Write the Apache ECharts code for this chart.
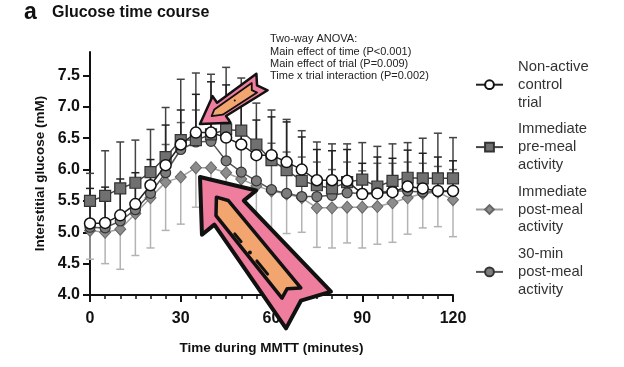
<!DOCTYPE html>
<html><head><meta charset="utf-8">
<script src="https://cdn.jsdelivr.net/npm/echarts@6/dist/echarts.min.js"></script>
<style>html,body{margin:0;padding:0;background:#fff}#c{width:624px;height:367px}</style>
</head><body><div id="c"></div>
<script>
const time = [0,5,10,15,20,25,30,35,40,45,50,55,60,65,70,75,80,85,90,95,100,105,110,115,120];
const control = [5.14,5.15,5.27,5.45,5.75,6.07,6.40,6.59,6.59,6.51,6.40,6.23,6.23,6.12,6.00,5.83,5.83,5.82,5.61,5.62,5.64,5.73,5.70,5.66,5.66];
const preMeal = [5.50,5.58,5.70,5.79,5.96,6.20,6.47,6.47,6.56,6.64,6.62,6.40,6.15,5.99,5.82,5.75,5.70,5.80,5.84,5.73,5.82,5.87,5.86,5.86,5.86];
const postMeal = [5.03,5.00,5.05,5.30,5.55,5.80,5.88,6.03,6.03,5.95,5.85,5.74,5.66,5.61,5.55,5.39,5.39,5.40,5.40,5.41,5.47,5.55,5.62,5.64,5.52];
const thirtyMin = [5.08,5.07,5.18,5.36,5.62,5.95,6.32,6.44,6.45,6.14,5.96,5.82,5.68,5.62,5.57,5.57,5.59,5.63,5.62,5.64,5.66,5.66,5.64,5.65,5.65];
const controlTop = [5.70,5.72,5.85,5.95,6.16,6.71,6.95,7.20,7.40,7.35,7.24,6.79,6.84,6.76,6.52,6.32,6.30,6.32,6.10,6.20,6.18,6.31,6.26,6.20,6.14];
const preMealTop = [5.94,6.30,6.44,6.47,6.64,6.99,7.44,7.54,7.52,7.63,7.46,7.06,6.95,6.80,6.62,6.44,6.41,6.41,6.43,6.37,6.41,6.43,6.50,6.58,6.51];
const thirtyMinTop = [5.55,5.55,5.65,5.85,6.00,6.40,6.75,6.95,7.00,6.80,6.55,6.35,6.42,6.28,6.20,6.12,6.00,6.12,5.98,6.10,6.10,6.12,6.10,6.05,6.00];
const postMealBottom = [4.57,4.50,4.41,4.63,4.75,5.03,5.13,5.40,5.35,5.20,5.10,5.00,4.95,4.98,5.00,4.76,4.75,4.83,4.75,4.81,4.84,4.97,5.07,5.09,4.93];
const yTicks = [4.0,4.5,5.0,5.5,6.0,6.5,7.0,7.5];
const seriesNames = ['Non-active control trial','Immediate pre-meal activity','Immediate post-meal activity','30-min post-meal activity'];
const legendLabels = ['Non-active\ncontrol\ntrial','Immediate\npre-meal\nactivity','Immediate\npost-meal\nactivity','30-min\npost-meal\nactivity'];
const annotation = ['Two-way ANOVA:','Main effect of time (P<0.001)','Main effect of trial (P=0.009)','Time x trial interaction (P=0.002)'];

const FONT = 'Liberation Sans, Arial, sans-serif';
function pairs(vals){ return time.map((t,i)=>[t, vals[i]]); }
function errorSeries(mean, end, color, z){
  return {
    type:'custom', silent:true, z:z,
    data: time.map((t,i)=>[t, mean[i], end[i]]),
    encode:{x:0, y:[1,2]},
    renderItem(params, api){
      const p0 = api.coord([api.value(0), api.value(1)]);
      const p1 = api.coord([api.value(0), api.value(2)]);
      const hw = 4;
      return {type:'group', children:[
        {type:'line', shape:{x1:p0[0],y1:p0[1],x2:p1[0],y2:p1[1]}, style:{stroke:color,lineWidth:1.5}},
        {type:'line', shape:{x1:p1[0]-hw,y1:p1[1],x2:p1[0]+hw,y2:p1[1]}, style:{stroke:color,lineWidth:1.5}}
      ]};
    }
  };
}
function arrowShape(tip, tail, headLen, headHW, neckHW, tailHW, notch){
  const dx=tail[0]-tip[0], dy=tail[1]-tip[1], L=Math.hypot(dx,dy);
  const ux=dx/L, uy=dy/L, px=-uy, py=ux;
  const P=(a,b)=>[tip[0]+ux*a+px*b, tip[1]+uy*a+py*b];
  return {P, L, outer:[P(0,0),P(headLen,headHW),P(headLen,neckHW),P(L,tailHW),P(L-notch,0),P(L,-tailHW),P(headLen,-neckHW),P(headLen,-headHW)]};
}
const big = arrowShape([200,177],[308.5,310],46,35,19,29,12);
const bigInner = [big.P(26,0),big.P(36,-7),big.P(big.L-22,-8),big.P(big.L-30,3),big.P(big.L-26,13),big.P(40,12)];
const small = arrowShape([200,124],[262,82],26,16,8,10,6);
const smallInner = [small.P(14,0),small.P(20,-4),small.P(small.L-9,-5),small.P(small.L-13,1),small.P(small.L-10,6),small.P(24,5)];
const PINK='#ef7d9d', ORANGE='#f3a56f', INK='#111';

const chart = echarts.init(document.getElementById('c'));
chart.setOption({
  animation:false,
  backgroundColor:'#fff',
  title:{text:'Glucose time course', left:52, top:5, padding:0, textStyle:{fontFamily:FONT, fontSize:16, fontWeight:'bold', color:'#111'}},
  legend:{
    orient:'vertical', left:475, top:58, padding:0, itemGap:9, itemWidth:27, itemHeight:11,
    data:seriesNames,
    formatter:(n)=>legendLabels[seriesNames.indexOf(n)],
    textStyle:{fontFamily:FONT, fontSize:14.8, lineHeight:17.8, color:'#333', padding:[0,0,0,10]}
  },
  grid:{left:90, right:171, top:52, bottom:72},
  xAxis:{
    type:'value', min:0, max:120, interval:30,
    name:'Time during MMTT (minutes)', nameLocation:'middle', nameGap:46,
    nameTextStyle:{fontFamily:FONT, fontSize:13.5, fontWeight:'bold', color:'#111'},
    axisLine:{lineStyle:{color:'#111', width:2}},
    axisTick:{show:true, length:7, lineStyle:{color:'#111', width:2}},
    minorTick:{show:true, splitNumber:6, length:4, lineStyle:{color:'#111', width:1.5}},
    axisLabel:{fontFamily:FONT, fontSize:16, fontWeight:'bold', color:'#111', margin:16},
    splitLine:{show:false}
  },
  yAxis:{
    type:'value', min:4, max:7.875,
    name:'Interstitial glucose (mM)', nameLocation:'middle', nameGap:41,
    nameTextStyle:{fontFamily:FONT, fontSize:13.5, fontWeight:'bold', color:'#111'},
    axisLine:{show:true, lineStyle:{color:'#111', width:2}},
    axisTick:{show:true, length:7, customValues:yTicks, lineStyle:{color:'#111', width:2}},
    axisLabel:{customValues:yTicks, formatter:(v)=>v.toFixed(1), fontFamily:FONT, fontSize:16, fontWeight:'bold', color:'#111', margin:10},
    splitLine:{show:false}
  },
  graphic:[
    {type:'text', left:24, top:1, style:{text:'a', font:'bold 23px '+FONT, fill:'#111'}},
    {type:'text', left:270, top:33, style:{text:annotation.join('\n'), font:'11px '+FONT, lineHeight:12.4, fill:'#222'}},
    {type:'polygon', z:100, shape:{points:small.outer}, style:{fill:PINK, stroke:INK, lineWidth:2.5, lineJoin:'round'}},
    {type:'polygon', z:101, shape:{points:smallInner}, style:{fill:ORANGE, stroke:INK, lineWidth:1.8, lineJoin:'round'}},
    {type:'circle', z:102, shape:{cx:small.P(42,0)[0], cy:small.P(42,0)[1], r:1}, style:{fill:INK}},
    {type:'polygon', z:100, shape:{points:big.outer}, style:{fill:PINK, stroke:INK, lineWidth:4, lineJoin:'round'}},
    {type:'polygon', z:101, shape:{points:bigInner}, style:{fill:ORANGE, stroke:INK, lineWidth:3.5, lineJoin:'round'}},
    {type:'polyline', z:102, shape:{points:[big.P(66,9),big.P(76,9)]}, style:{stroke:INK, lineWidth:3, lineCap:'round'}},
    {type:'circle', z:102, shape:{cx:big.P(90,9)[0], cy:big.P(90,9)[1], r:2}, style:{fill:INK}},
    {type:'polyline', z:102, shape:{points:[big.P(101,9),big.P(118,9)]}, style:{stroke:INK, lineWidth:3, lineCap:'round'}}
  ],
  series:[
    errorSeries(postMeal, postMealBottom, '#b3b3b3', 1),
    errorSeries(thirtyMin, thirtyMinTop, '#666', 1),
    errorSeries(preMeal, preMealTop, '#444', 1),
    errorSeries(control, controlTop, '#222', 1),
    {name:seriesNames[2], type:'line', z:3, data:pairs(postMeal), symbol:'diamond', symbolSize:[11,12],
      itemStyle:{color:'#8c8c8c', borderColor:'#666', borderWidth:1}, lineStyle:{color:'#a0a0a0', width:1.5}},
    {name:seriesNames[3], type:'line', z:4, data:pairs(thirtyMin), symbol:'circle', symbolSize:10,
      itemStyle:{color:'#7d7d7d', borderColor:'#333', borderWidth:1.2}, lineStyle:{color:'#555', width:1.5}},
    {name:seriesNames[1], type:'line', z:5, data:pairs(preMeal), symbol:'rect', symbolSize:11,
      itemStyle:{color:'#707070', borderColor:'#333', borderWidth:1.2}, lineStyle:{color:'#444', width:1.5}},
    {name:seriesNames[0], type:'line', z:6, data:pairs(control), symbol:'circle', symbolSize:11,
      itemStyle:{color:'#fff', borderColor:'#111', borderWidth:1.5}, lineStyle:{color:'#222', width:1.5}}
  ]
});
</script>
</body></html>
